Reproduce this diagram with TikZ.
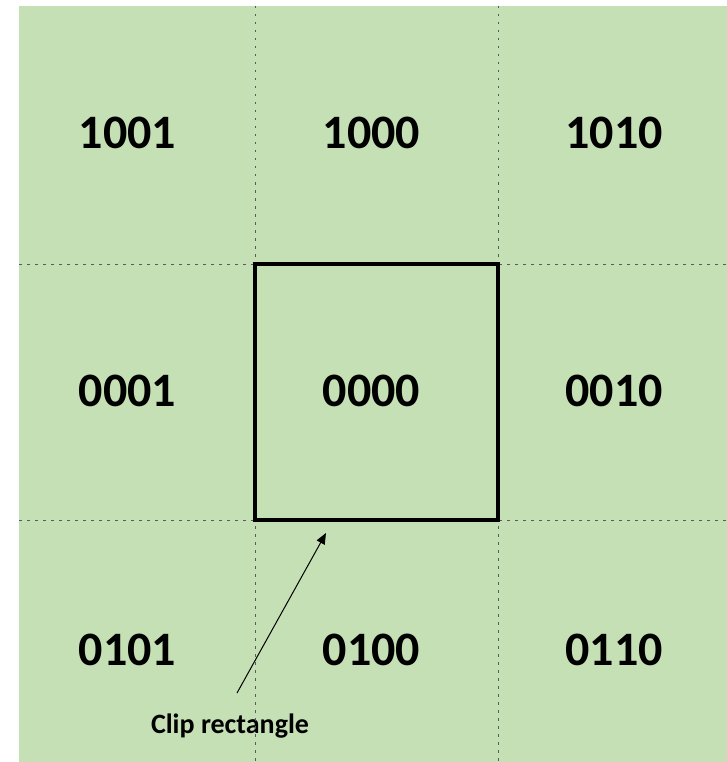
\documentclass[tikz,border=0pt]{standalone}
\usepackage{fontspec}
\setmainfont{Carlito}
\usetikzlibrary{arrows.meta}
\definecolor{bggreen}{HTML}{C5E0B4}
\definecolor{gridgray}{HTML}{5A5A5A}
\tikzset{
  code/.style={font=\bfseries\fontsize{48}{56}\selectfont, text=black, inner sep=0pt, anchor=center},
  caption/.style={font=\bfseries\fontsize{28}{32}\selectfont, text=black, inner sep=0pt, anchor=base},
  gridline/.style={gridgray, line width=1pt, dash pattern=on 2.5pt off 5.5pt},
  cliprect/.style={draw=black, line width=4.5pt},
  pointer/.style={black, line width=1pt, -{Triangle[length=11pt,width=9pt]}}
}
\begin{document}
\begin{tikzpicture}[x=1pt,y=-1pt]
\useasboundingbox (0,0) rectangle (727,762);
\fill[bggreen] (19,6) rectangle (727,762);
% labels
\node[code] (n1001) at (127.5,133) {1001};
\node[code] (n1000) at (371.5,133) {1000};
\node[code] (n1010) at (614,133) {1010};
\node[code] (n0001) at (127.5,391) {0001};
\node[code] (n0000) at (371.5,391) {0000};
\node[code] (n0010) at (614,391) {0010};
\node[code] (n0101) at (127.5,650) {0101};
\node[code] (n0100) at (371.5,650) {0100};
\node[code] (n0110) at (614,650) {0110};
\node[caption] (cap) at (230,733) {Clip rectangle};
% grid
\coordinate (v1t) at (255,6);   \coordinate (v1b) at (255,762);
\coordinate (v2t) at (498,6);   \coordinate (v2b) at (498,762);
\coordinate (h1l) at (19,264);  \coordinate (h1r) at (727,264);
\coordinate (h2l) at (19,520);  \coordinate (h2r) at (727,520);
\draw[gridline] (v1t) -- (v1b);
\draw[gridline] (v2t) -- (v2b);
\draw[gridline] (h1l) -- (h1r);
\draw[gridline] (h2l) -- (h2r);
% clip rectangle
\coordinate (rtl) at (255,264);
\coordinate (rbr) at (498,520);
\draw[cliprect] (rtl) rectangle (rbr);
% pointer
\coordinate (ptail) at (237,693);
\coordinate (phead) at (326,533);
\draw[pointer] (ptail) -- (phead);
\end{tikzpicture}
\end{document}
